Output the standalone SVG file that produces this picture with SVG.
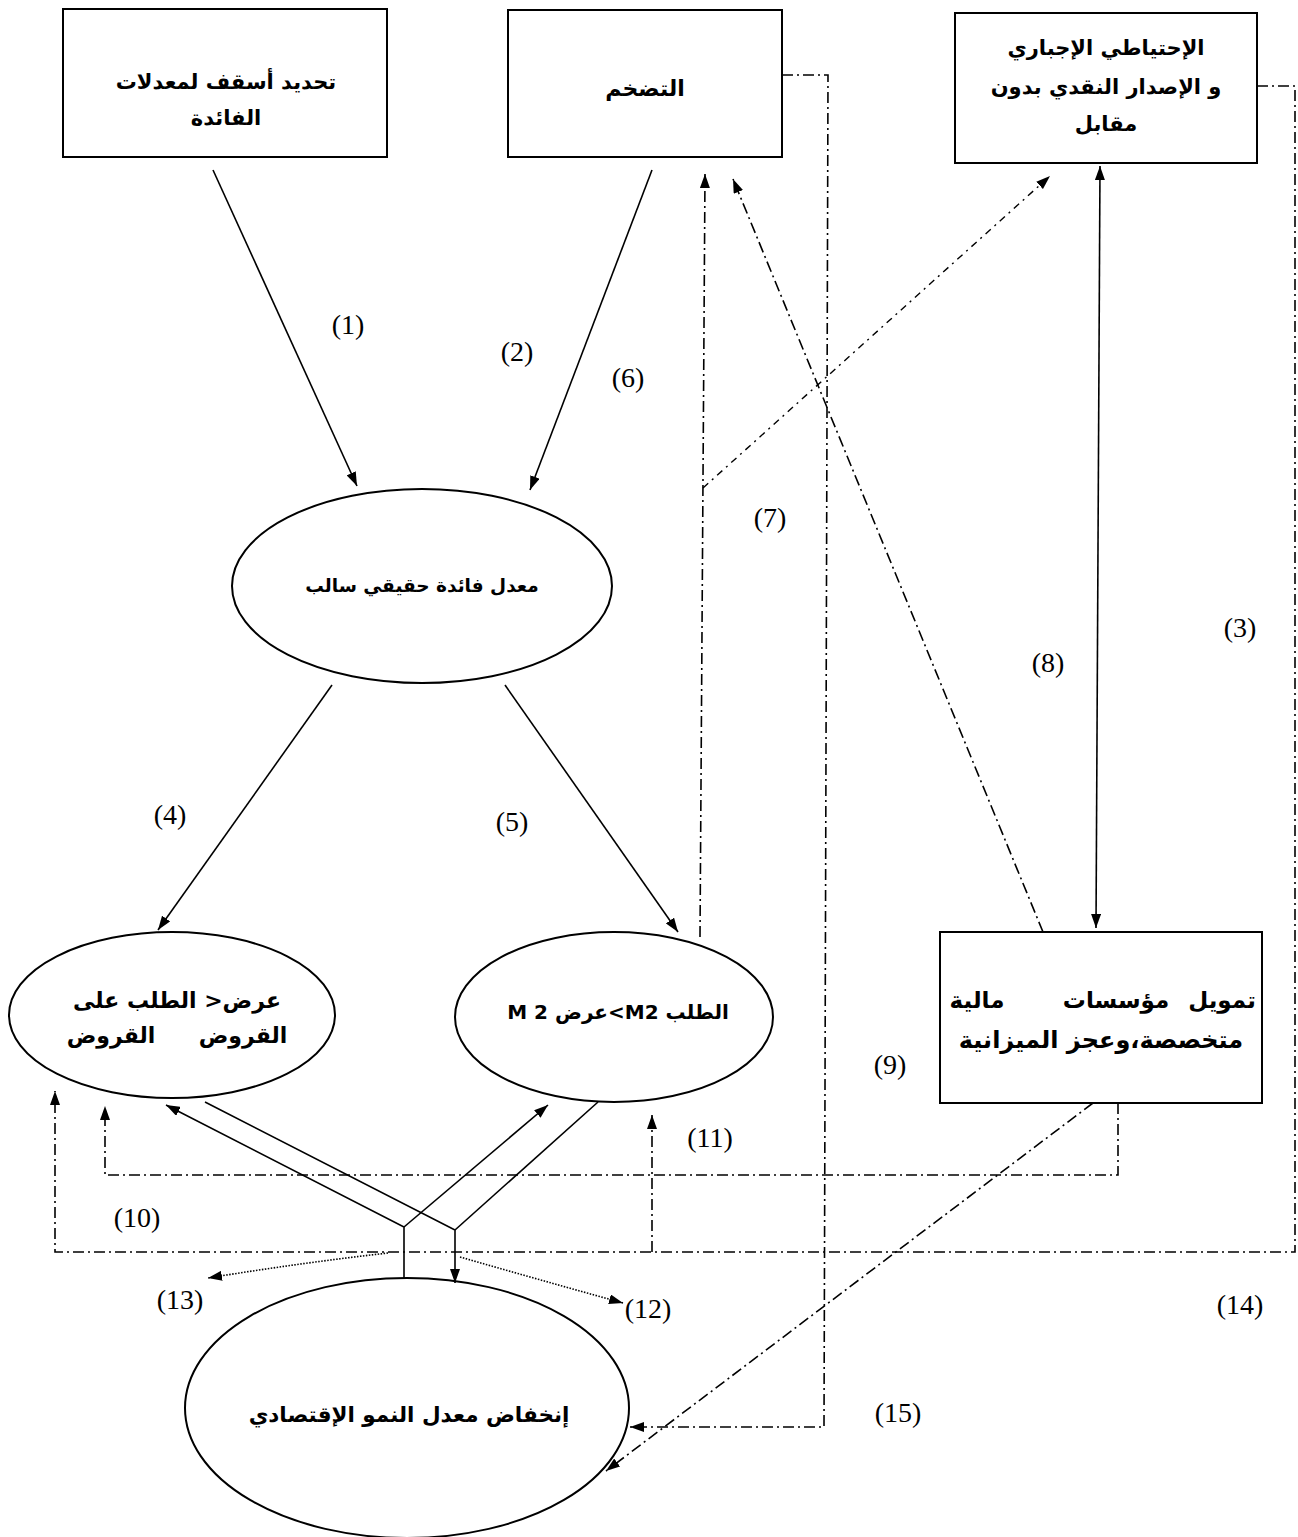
<svg xmlns="http://www.w3.org/2000/svg" width="1298" height="1537" viewBox="0 0 1298 1537">
<style>
.box{fill:#fff;stroke:#000;stroke-width:2}
.ell{fill:none;stroke:#000;stroke-width:2}
.ar{font-family:"DejaVu Sans",sans-serif;font-weight:bold;font-size:21px;fill:#000;text-anchor:middle;direction:rtl;unicode-bidi:embed}
.lbl{font-family:"Liberation Serif",serif;font-size:28px;fill:#000;text-anchor:middle}
.sol{fill:none;stroke:#000;stroke-width:1.6}
.dd{fill:none;stroke:#000;stroke-width:1.6;stroke-dasharray:11 4 2 4}
.df{fill:none;stroke:#000;stroke-width:1.4;stroke-dasharray:7 5 2 5}
.dot{fill:none;stroke:#000;stroke-width:1.6;stroke-dasharray:1.5 1.5}
</style>
<defs>
<marker id="ah" viewBox="0 0 14 10" refX="14" refY="5" markerWidth="14" markerHeight="10" markerUnits="userSpaceOnUse" orient="auto-start-reverse">
<path d="M0,0 L14,5 L0,10 Z" fill="#000"/>
</marker>
</defs>
<rect width="1298" height="1537" fill="#fff"/>
<g id="connectors">
<path class="sol" d="M213,170 L357,486" marker-end="url(#ah)"/>
<path class="sol" d="M652,170 L530,490" marker-end="url(#ah)"/>
<path class="sol" d="M332,685 L158,930" marker-end="url(#ah)"/>
<path class="sol" d="M505,685 L678,932" marker-end="url(#ah)"/>
<path class="sol" d="M1100,166 L1096,928" marker-start="url(#ah)" marker-end="url(#ah)"/>
<path class="dd" d="M700,937 L705,174" marker-end="url(#ah)"/>
<path class="df" d="M703,488 L1050,176" marker-end="url(#ah)"/>
<path class="dd" d="M1043,932 L733,179" marker-end="url(#ah)"/>
<path class="dd" d="M782,75 L828,75 L824,1427 L630,1427" marker-end="url(#ah)"/>
<path class="dd" d="M1257,86 L1295,86 L1295,1252 L55,1252 L55,1091" marker-end="url(#ah)"/>
<path class="dd" d="M652,1252 L652,1115" marker-end="url(#ah)"/>
<path class="dd" d="M1118,1103 L1118,1175 L105,1175 L105,1106" marker-end="url(#ah)"/>
<path class="dd" d="M1093,1103 L606,1471" marker-end="url(#ah)"/>
<path class="sol" d="M404,1278 L404,1227 L166,1105" marker-end="url(#ah)"/>
<path class="sol" d="M404,1227 L548,1105" marker-end="url(#ah)"/>
<path class="sol" d="M205,1102 L455,1230 L455,1283" marker-end="url(#ah)"/>
<path class="sol" d="M598,1102 L455,1230"/>
<path class="dot" d="M388,1253 Q300,1263 208,1278" marker-end="url(#ah)"/>
<path class="dot" d="M460,1257 Q540,1280 623,1303" marker-end="url(#ah)"/>
</g>
<g id="labels">
<text class="lbl" x="348" y="334">(1)</text>
<text class="lbl" x="517" y="361">(2)</text>
<text class="lbl" x="628" y="387">(6)</text>
<text class="lbl" x="770" y="527">(7)</text>
<text class="lbl" x="1240" y="637">(3)</text>
<text class="lbl" x="1048" y="672">(8)</text>
<text class="lbl" x="170" y="824">(4)</text>
<text class="lbl" x="512" y="831">(5)</text>
<text class="lbl" x="890" y="1074">(9)</text>
<text class="lbl" x="710" y="1147">(11)</text>
<text class="lbl" x="137" y="1227">(10)</text>
<text class="lbl" x="180" y="1309">(13)</text>
<text class="lbl" x="648" y="1318">(12)</text>
<text class="lbl" x="1240" y="1314">(14)</text>
<text class="lbl" x="898" y="1422">(15)</text>
</g>
<g id="n1">
<rect class="box" x="63" y="9" width="324" height="148"/>
<text class="ar" x="226" y="89">تحديد أسقف لمعدلات</text>
<text class="ar" x="226" y="125">الفائدة</text>
</g>
<g id="n2">
<rect class="box" x="508" y="10" width="274" height="147"/>
<text class="ar" x="645" y="96" style="font-size:22px">التضخم</text>
</g>
<g id="n3">
<rect class="box" x="955" y="13" width="302" height="150"/>
<text class="ar" x="1106" y="55">الإحتياطي الإجباري</text>
<text class="ar" x="1106" y="94">و الإصدار النقدي بدون</text>
<text class="ar" x="1106" y="131">مقابل</text>
</g>
<g id="n4">
<rect class="box" x="940" y="932" width="322" height="171"/>
<text class="ar" x="1222" y="1008" style="font-size:23px">تمويل</text>
<text class="ar" x="1116" y="1008" style="font-size:23px">مؤسسات</text>
<text class="ar" x="977" y="1008" style="font-size:23px">مالية</text>
<text class="ar" x="1101" y="1048" style="font-size:24px">متخصصة،وعجز الميزانية</text>
</g>
<g id="n5">
<ellipse class="ell" cx="422" cy="586" rx="190" ry="97"/>
<text class="ar" x="422" y="592" style="font-size:18.5px">معدل فائدة حقيقي سالب</text>
</g>
<g id="n6">
<ellipse class="ell" cx="172" cy="1015" rx="163" ry="83"/>
<text class="ar" x="177" y="1008" style="font-size:22px">عرض&lt; الطلب على</text>
<text class="ar" x="243" y="1043" style="font-size:22px">القروض</text>
<text class="ar" x="111" y="1043" style="font-size:22px">القروض</text>
</g>
<g id="n7">
<ellipse class="ell" cx="614" cy="1017" rx="159" ry="85"/>
<text class="ar" x="618" y="1019" style="font-size:20px">الطلب M2&gt;عرض M 2</text>
</g>
<g id="n8">
<ellipse class="ell" cx="407" cy="1408" rx="222" ry="130"/>
<text class="ar" x="409" y="1422" style="font-size:21.5px">إنخفاض معدل النمو الإقتصادي</text>
</g>
</svg>
